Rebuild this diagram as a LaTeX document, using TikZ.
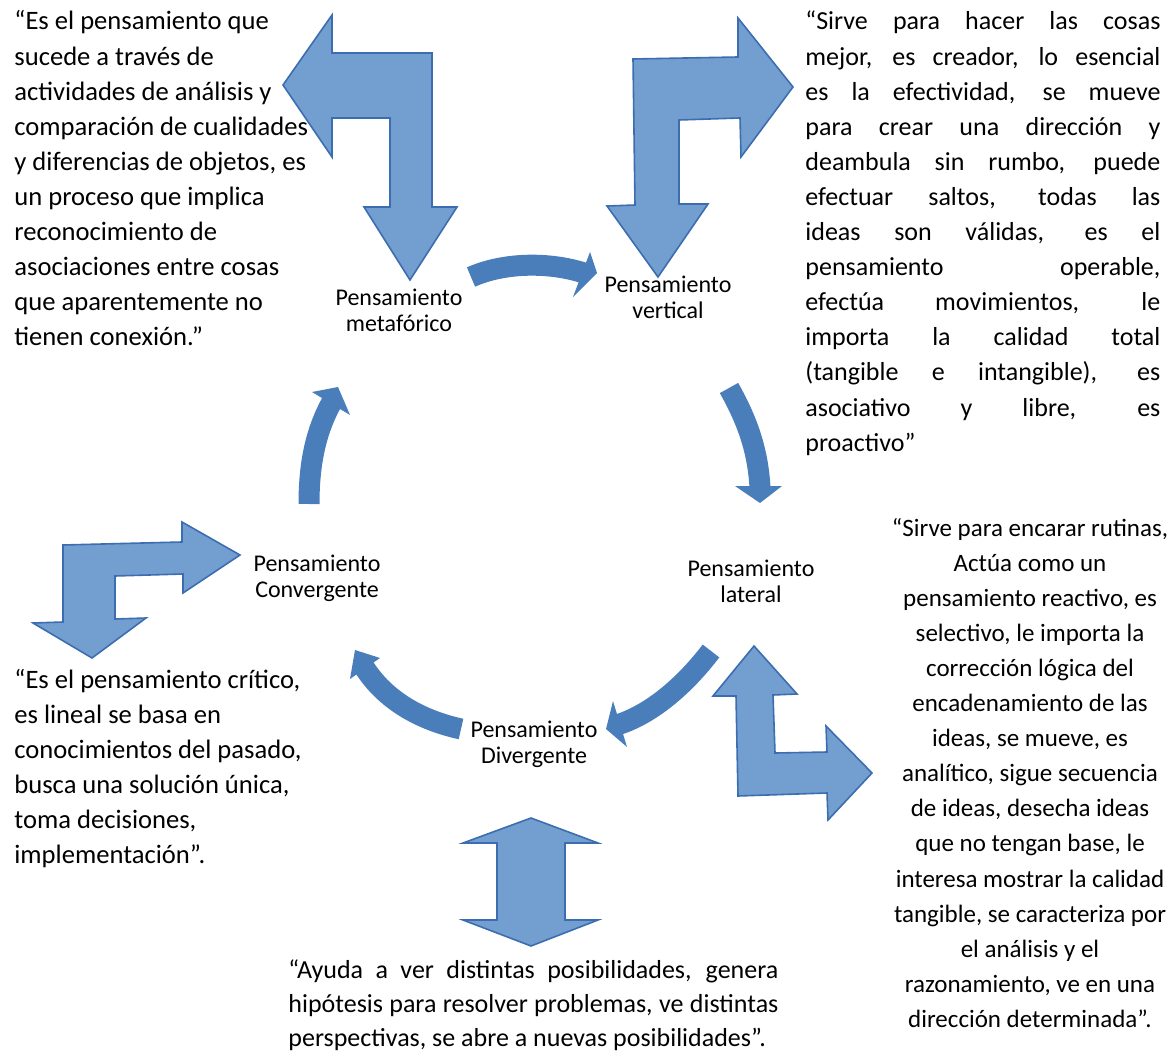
\documentclass[tikz,border=0pt]{standalone}
\usepackage{fontspec}
\setmainfont{Carlito}
\definecolor{bfill}{HTML}{729FCF}
\definecolor{bline}{HTML}{3C6DB0}
\definecolor{carrow}{HTML}{4A7EBB}
\begin{document}
\begin{tikzpicture}[x=0.5pt,y=-0.5pt,
  bent/.style={fill=bfill,draw=bline,line width=0.8pt,line join=miter},
  cbody/.style={draw=carrow,line width=10.5pt},
  chead/.style={fill=carrow},
  lbl/.style={font=\fontsize{12}{13}\selectfont,align=center,inner sep=0},
  txt/.style={inner sep=0,anchor=base west,font=\fontsize{13.3}{17.55}\selectfont}]
\useasboundingbox (0,0) rectangle (1171,1053);

% ---- bent arrows
\draw[bent] (283,85) -- (332,15) -- (332,53) -- (432,53) -- (432,207) -- (457,207) -- (410,280) -- (364,207) -- (390,207) -- (390,118) -- (332,118) -- (332,157) -- cycle;
\draw[bent] (793,87) -- (738,18) -- (738,57) -- (633,59) -- (635,205) -- (607,206) -- (658,277) -- (708,204) -- (679,204) -- (679,120) -- (740,118) -- (741,157) -- cycle;
\draw[bent] (240,555) -- (182,522) -- (182,542) -- (63,545) -- (63,622) -- (33,623) -- (92,658) -- (146,618) -- (115,619) -- (115,576) -- (183,574) -- (183,593) -- cycle;
\draw[bent] (754,646) -- (797,694) -- (773,695) -- (775,753) -- (827,752) -- (826,726) -- (872,773) -- (828,820) -- (827,793) -- (738,796) -- (736,696) -- (713,696) -- cycle;
\draw[bent] (531,818) -- (598,843) -- (565,843) -- (565,920) -- (598,920) -- (531,946) -- (463,920) -- (497,920) -- (497,843) -- (463,843) -- cycle;

% ---- labels
\node[lbl] (meta) at (399,310) {Pensamiento\\metafórico};
\node[lbl] (vert) at (668,297) {Pensamiento\\vertical};
\node[lbl] (lat) at (751,581) {Pensamiento\\lateral};
\node[lbl] (conv) at (317,578) {Pensamiento\\Convergente};
\node[lbl] (div) at (534,744) {Pensamiento\\Divergente};

% ---- curved arrows
\coordinate (a1s) at (471,277); \coordinate (a1e) at (584,273);
\draw[cbody] (a1s) .. controls (505,262) and (550,262) .. (a1e);
\fill[chead] (590,252) -- (597,273) -- (573,297) -- cycle;

\coordinate (a2s) at (729,388); \coordinate (a2e) at (760,488);
\draw[cbody] (a2s) .. controls (747,420) and (758,450) .. (a2e);
\fill[chead] (735,486) -- (782,486) -- (760,503) -- cycle;

\coordinate (a3s) at (309,504); \coordinate (a3e) at (333,400);
\draw[cbody] (a3s) .. controls (309,460) and (317,428) .. (a3e);
\fill[chead] (312,392) -- (338,387) -- (350,415) -- cycle;

\coordinate (a4s) at (711,651); \coordinate (a4e) at (617,725);
\draw[cbody] (a4s) .. controls (685,685) and (652,714) .. (a4e);
\fill[chead] (613,701) -- (606,729) -- (627,747) -- cycle;

\coordinate (a5s) at (461,729); \coordinate (a5e) at (364,667);
\draw[cbody] (a5s) .. controls (420,720) and (385,700) .. (a5e);
\fill[chead] (355,650) -- (350,679) -- (380,658) -- cycle;

% ---- texts
\node[txt] (t1) at (14,30) {\parbox[t]{170pt}{\raggedright
“Es el pensamiento que\\
sucede a través de\\
actividades de análisis y\\
comparación de cualidades\\
y diferencias de objetos, es\\
un proceso que implica\\
reconocimiento de\\
asociaciones entre cosas\\
que aparentemente no\\
tienen conexión.”}};

\node[txt,font=\fontsize{13}{17.55}\selectfont] (t2) at (805,30) {\parbox[t]{177.5pt}{\hbadness=10000 \tolerance=10000 \hyphenpenalty=10000 \parfillskip=0pt plus 1fil
“Sirve para hacer las cosas\linebreak
mejor, es creador, lo esencial\linebreak
es la efectividad, se mueve\linebreak
para crear una dirección y\linebreak
deambula sin rumbo, puede\linebreak
efectuar saltos, todas las\linebreak
ideas son válidas, es el\linebreak
pensamiento operable,\linebreak
efectúa movimientos, le\linebreak
importa la calidad total\linebreak
(tangible e intangible), es\linebreak
asociativo y libre, es\linebreak
proactivo”}};

\node[txt,anchor=base,font=\fontsize{12.5}{17.55}\selectfont] (t3) at (1030,536) {\parbox[t]{145pt}{\centering
“Sirve para encarar rutinas,\\
Actúa como un\\
pensamiento reactivo, es\\
selectivo, le importa la\\
corrección lógica del\\
encadenamiento de las\\
ideas, se mueve, es\\
analítico, sigue secuencia\\
de ideas, desecha ideas\\
que no tengan base, le\\
interesa mostrar la calidad\\
tangible, se caracteriza por\\
el análisis y el\\
razonamiento, ve en una\\
dirección determinada”.}};

\node[txt] (t4) at (14,688) {\parbox[t]{170pt}{\raggedright
“Es el pensamiento crítico,\\
es lineal se basa en\\
conocimientos del pasado,\\
busca una solución única,\\
toma decisiones,\\
implementación”.}};

\node[txt,font=\fontsize{13}{17.2}\selectfont] (t5) at (288,978) {\parbox[t]{245pt}{\hbadness=10000 \tolerance=10000 \hyphenpenalty=10000 \parfillskip=0pt plus 1fil
“Ayuda a ver distintas posibilidades, genera\linebreak
hipótesis para resolver problemas, ve distintas\linebreak
perspectivas, se abre a nuevas posibilidades”.}};
\end{tikzpicture}
\end{document}
